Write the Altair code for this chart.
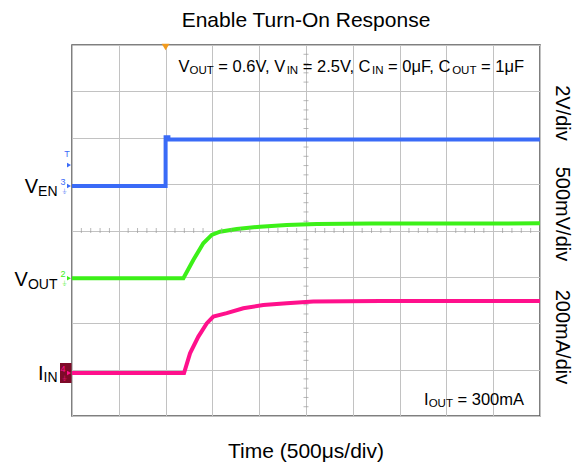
import altair as alt
import pandas as pd
import numpy as np

FONT = "Arial, Liberation Sans, sans-serif"

# ---------------- data ----------------
# time in microseconds, 500 us/div, 10 divisions
t_max = 5000
y_divs = 8

# Enable (V), 2 V/div
ven_t = [0, 1000, 1000, 1030, 1030, 5000]
ven_v = [0.0, 0.0, 2.1, 2.1, 2.0, 2.0]

# Output voltage (V), 500 mV/div
vout_t = [0, 1190, 1296, 1403, 1493, 1581, 1760, 2009, 2294, 2614, 3200, 5000]
vout_v = [0.0, 0.0, 0.197, 0.377, 0.467, 0.502, 0.531, 0.556, 0.575, 0.585, 0.590, 0.592]

# Input current (mA), 200 mA/div
iin_t = [0, 1197, 1261, 1350, 1439, 1510, 1653, 1830, 2044, 2294, 2578, 3300, 5000]
iin_ma = [0, 0, 85, 157, 214, 243, 258, 279, 293, 301, 308, 311, 311]

# channel settings: units per division and ground level (divisions from bottom)
ch_names = ["VEN", "VOUT", "IIN"]
ch_per_div = [2.0, 0.5, 200.0]
ch_ground = [4.96, 2.97, 0.927]
ch_colors = ["#3a6bf7", "#3cf018", "#ff108c"]
ch_numbers = ["3", "2", "4"]

trig_t = 1000
trig_level = 0.9  # V on VEN

# ---------------- build table ----------------
rows = []
for name, ts, vs, per, gnd in zip(ch_names, [ven_t, vout_t, iin_t], [ven_v, vout_v, iin_ma],
                                  ch_per_div, ch_ground):
    for i, (t, v) in enumerate(zip(ts, vs)):
        rows.append({"series": name, "t": t, "div": gnd + v / per, "order": i})
df = pd.DataFrame(rows)

one = alt.Data(values=[{}])

xscale = alt.Scale(domain=[0, t_max], nice=False, zero=False)
yscale = alt.Scale(domain=[0, y_divs], nice=False, zero=False)

xaxis = alt.Axis(values=list(range(0, t_max + 1, 500)), grid=True, gridColor="#c2c2c2", gridWidth=1,
                 labels=False, ticks=False, domain=False, title=None)
yaxis = alt.Axis(values=list(range(0, y_divs + 1)), grid=True, gridColor="#c2c2c2", gridWidth=1,
                 labels=False, ticks=False, domain=False, title=None)

lines = alt.Chart(df).mark_line(strokeWidth=4, interpolate="linear", clip=True).encode(
    x=alt.X("t:Q", scale=xscale, axis=xaxis),
    y=alt.Y("div:Q", scale=yscale, axis=yaxis),
    color=alt.Color("series:N", scale=alt.Scale(domain=ch_names, range=ch_colors), legend=None),
    order="order:Q",
)

# minor ticks on the centre cross
vt = pd.DataFrame({"y": [i / 5 for i in range(1, y_divs * 5) if i % 5 != 0]})
ht = pd.DataFrame({"x": [i * 100 for i in range(1, t_max // 100) if i % 5 != 0]})
vticks = alt.Chart(vt).mark_tick(orient="horizontal", size=5, thickness=1, color="#9a9a9a").encode(
    x=alt.datum(t_max / 2), y=alt.Y("y:Q", scale=yscale))
hticks = alt.Chart(ht).mark_tick(orient="vertical", size=5, thickness=1, color="#9a9a9a").encode(
    x=alt.X("x:Q", scale=xscale), y=alt.datum(y_divs / 2))

trig = alt.Chart(one).mark_point(shape="triangle-down", filled=True, size=60, color="#f29b1d",
                                 opacity=1).encode(x=alt.datum(trig_t), y=alt.value(2))

# ---------------- text helpers ----------------
W = {' ': 278, '=': 584, '.': 278, ',': 278, 'V': 667, 'C': 722, 'F': 611, 'μ': 576, 'O': 778,
     'U': 722, 'T': 611, 'I': 278, 'N': 722, 'E': 667, 'm': 833, 'A': 667}
for d in "0123456789":
    W[d] = 556


def tw(s, size):
    return sum(W.get(c, 556) for c in s) * size / 1000


def txt(text, x, y, size, align="left", angle=0, color="black", baseline="alphabetic"):
    return alt.Chart(one).mark_text(align=align, baseline=baseline, fontSize=size, font=FONT,
                                    color=color, angle=angle).encode(
        x=alt.value(x), y=alt.value(y), text=alt.value(text))


def rich(frags, x_right, y_base, main, sub, sub_dy):
    total = sum(tw(t, sub if s else main) for t, s in frags)
    x = x_right - total
    out = []
    for t, s in frags:
        size = sub if s else main
        stripped = t.lstrip(" ")
        lead = len(t) - len(stripped)
        out.append(txt(stripped, x + tw(" " * lead, size), y_base + (sub_dy if s else 0), size))
        x += tw(t, size)
    return out


layers = [lines, vticks, hticks, trig]

# title and axis caption
layers.append(txt("Enable Turn-On Response", 234, -18, 21, align="center"))
layers.append(txt("Time (500μs/div)", 234, 413, 21, align="center"))

# right-hand scale labels
layers.append(txt("2V/div", 484, 68, 20, align="center", angle=90))
layers.append(txt("500mV/div", 484, 169, 20, align="center", angle=90))
layers.append(txt("200mA/div", 484, 292, 20, align="center", angle=90))

# conditions
layers += rich([("V", False), ("OUT", True), (" = 0.6V, V", False), ("IN", True),
                (" = 2.5V, C", False), ("IN", True), (" = 0μF, C", False), ("OUT", True),
                (" = 1μF", False)], 452, 26.7, 16.5, 11.5, 2)
layers += rich([("I", False), ("OUT", True), (" = 300mA", False)], 452, 360, 16.5, 11.5, 2)

# channel labels on the left
layers += rich([("V", False), ("EN", True)], -14.5, 148, 20, 14, 3)
layers += rich([("V", False), ("OUT", True)], -14.5, 241, 20, 14, 3)
layers += rich([("I", False), ("IN", True)], -14.5, 335, 20, 14, 2)

# channel ground markers
layers.append(alt.Chart(one).mark_rect(color="#7d0a28").encode(
    x=alt.value(-12), x2=alt.value(-0.5), y=alt.value(318), y2=alt.value(338)))
for name, gnd, col, num in zip(ch_names, ch_ground, ch_colors, ch_numbers):
    layers.append(alt.Chart(one).mark_point(shape="triangle-right", filled=True, size=22, color=col,
                                            opacity=1).encode(
        x=alt.value(-3), y=alt.datum(gnd)))
    layers.append(alt.Chart(one).mark_text(fontSize=9, font=FONT, color=col, align="center",
                                           dy=-4).encode(
        x=alt.value(-9), y=alt.datum(gnd), text=alt.value(num)))
    layers.append(alt.Chart(one).mark_text(fontSize=7, font=FONT, color=col, align="center",
                                           dy=6).encode(
        x=alt.value(-8), y=alt.datum(gnd), text=alt.value("⏚")))
# trigger level marker on the enable channel
layers.append(alt.Chart(one).mark_point(shape="triangle-right", filled=True, size=22,
                                        color=ch_colors[0], opacity=1).encode(
    x=alt.value(-3), y=alt.datum(ch_ground[0] + trig_level / ch_per_div[0])))
layers.append(txt("T", -5, 112, 9, align="center", color=ch_colors[0]))

chart = alt.layer(*layers).properties(
    width=468, height=371,
    autosize=alt.AutoSizeParams(type="none"),
    padding={"left": 64, "top": 37, "right": 34, "bottom": 47},
    background="white",
).configure_view(stroke="#555555", strokeWidth=1.5)

chart.save("out.html", embed_options={"renderer": "svg", "actions": False})
